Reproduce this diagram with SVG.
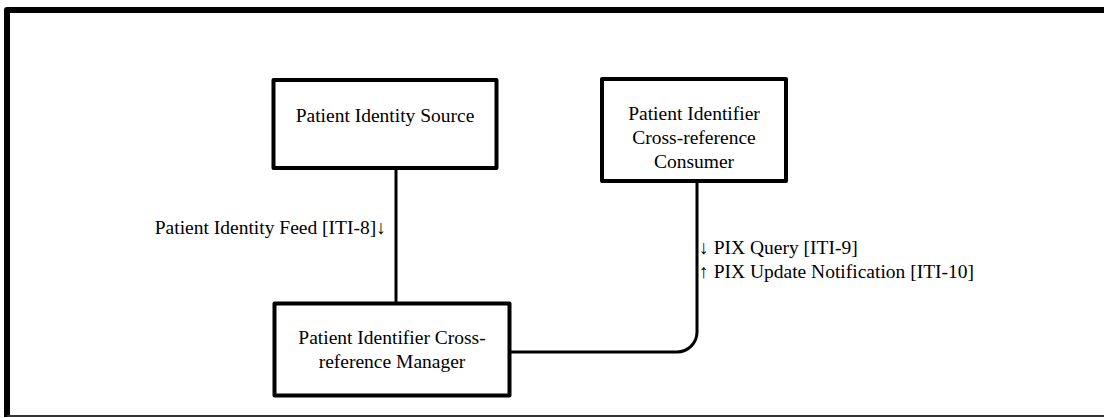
<svg xmlns="http://www.w3.org/2000/svg" width="1104" height="418" viewBox="0 0 1104 418">
<style>
.box{fill:#fff;stroke:#000;stroke-width:4;stroke-linejoin:round}
.lbl{font-family:"Liberation Serif","Times New Roman",serif;font-size:19.5px;fill:#000}
.c{text-anchor:middle}
.con{fill:none;stroke:#000;stroke-width:3}
</style>
<rect width="1104" height="418" fill="#fff"/>
<g id="frame">
<path d="M7,417 V10 H1104" fill="none" stroke="#000" stroke-width="6" stroke-linejoin="round"/>
<line x1="7" y1="416" x2="1104" y2="416" stroke="#333" stroke-width="2"/>
</g>
<g id="connectors">
<line class="con" x1="396" y1="170" x2="396" y2="302"/>
<path class="con" d="M697,183 V332 A20,20 0 0 1 677,352 H511"/>
<text class="lbl" x="386" y="234" text-anchor="end">Patient Identity Feed [ITI-8]↓</text>
<text class="lbl" x="699" y="254">↓ PIX Query [ITI-9]</text>
<text class="lbl" x="699" y="278">↑ PIX Update Notification [ITI-10]</text>
</g>
<g id="source">
<rect class="box" x="273.5" y="80" width="223" height="88"/>
<text class="lbl c" x="385" y="122">Patient Identity Source</text>
</g>
<g id="consumer">
<rect class="box" x="602" y="79" width="184" height="102"/>
<text class="lbl c" x="694" y="120">Patient Identifier</text>
<text class="lbl c" x="694" y="144">Cross-reference</text>
<text class="lbl c" x="694" y="168">Consumer</text>
</g>
<g id="manager">
<rect class="box" x="274.5" y="303.5" width="235" height="92"/>
<text class="lbl c" x="392" y="344">Patient Identifier Cross-</text>
<text class="lbl c" x="392" y="368">reference Manager</text>
</g>
</svg>
